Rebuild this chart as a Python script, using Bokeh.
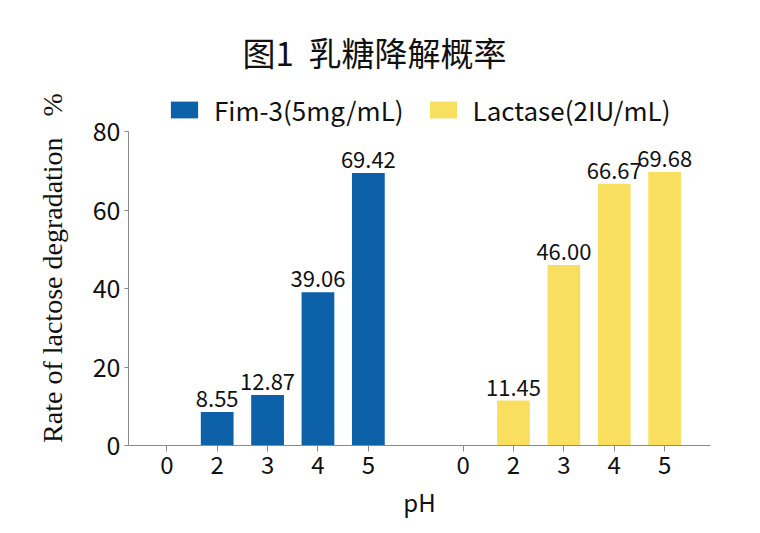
from bokeh.plotting import figure
from bokeh.models import ColumnDataSource, Legend, LegendItem, FixedTicker, Range1d
from bokeh.core.properties import value
from bokeh.embed import file_html
from bokeh.resources import INLINE

# ---- data ----
title_text = "图1\u00a0\u00a0乳糖降解概率"
ph_labels = ["0", "2", "3", "4", "5"]
fim_name = "Fim-3(5mg/mL)"
lac_name = "Lactase(2IU/mL)"
fim_values = [0, 8.55, 12.87, 39.06, 69.42]
lac_values = [0, 11.45, 46.00, 66.67, 69.68]
y_ticks = [0, 20, 40, 60, 80]
y_label = "Rate of lactose degradation\u00a0\u00a0\u00a0%"
x_label = "pH"

BLUE = "#0c61a8"
YELLOW = "#f9df60"
AXIS = "#8a8a8a"
CJK = "Noto Sans CJK SC"

GAP = 5.88
Y_MAX = 80
Y_TOP = 90.45   # headroom in frame for the legend
fim_x = [float(i) for i in range(len(ph_labels))]
lac_x = [round(i + GAP, 2) for i in range(len(ph_labels))]


def labels(vals):
    return [f"{v:.2f}" if v else "" for v in vals]


fim_src = ColumnDataSource(dict(x=fim_x, top=fim_values, label=labels(fim_values)))
lac_src = ColumnDataSource(dict(x=lac_x, top=lac_values, label=labels(lac_values)))

p = figure(width=744, height=525, output_backend="svg", toolbar_location=None,
           x_range=Range1d(-0.76, 10.79), y_range=Range1d(0, Y_TOP),
           min_border_left=128, min_border_right=34, min_border_top=90,
           min_border_bottom=80)
p.outline_line_color = None
p.grid.visible = False
p.background_fill_color = "white"

p.title.text = title_text
p.title.align = "left"
p.title.offset = 114
p.title.standoff = 30
p.title.text_font = CJK
p.title.text_font_size = "33px"
p.title.text_font_style = "normal"
p.title.text_color = "#111111"

r1 = p.vbar(x="x", top="top", width=0.65, source=fim_src, fill_color=BLUE, line_color=None)
r2 = p.vbar(x="x", top="top", width=0.65, source=lac_src, fill_color=YELLOW, line_color=None)

for src in (fim_src, lac_src):
    p.text(x="x", y="top", text="label", source=src, text_align="center",
           text_baseline="bottom", y_offset=-5, text_font=value(CJK),
           text_font_size="22px", text_color="#111111")

legend = Legend(items=[LegendItem(label=fim_name, renderers=[r1]),
                       LegendItem(label=lac_name, renderers=[r2])],
                orientation="horizontal", location=(39, 317),
                glyph_width=34, glyph_height=21, label_height=21,
                label_text_font=CJK, label_text_font_size="26px",
                label_standoff=13, spacing=22,
                padding=0, margin=0, border_line_color=None,
                background_fill_alpha=0, label_text_color="#111111")
p.add_layout(legend)

p.xaxis.ticker = FixedTicker(ticks=fim_x + lac_x)
p.xaxis.major_label_overrides = {x: l for x, l in zip(fim_x + lac_x, ph_labels + ph_labels)}
p.yaxis.ticker = FixedTicker(ticks=y_ticks)
p.yaxis.bounds = (0, Y_MAX)

for ax in (p.xaxis[0], p.yaxis[0]):
    ax.axis_line_color = AXIS
    ax.major_tick_line_color = AXIS
    ax.minor_tick_line_color = None
    ax.major_tick_in = 0
    ax.major_label_text_font = CJK
    ax.major_label_text_color = "#111111"
    ax.axis_label_text_color = "#111111"
    ax.axis_label_text_font_style = "normal"

p.xaxis.major_tick_out = 6
p.xaxis.major_label_text_font_size = "24px"
p.xaxis.major_label_standoff = 4
p.xaxis.axis_label = x_label
p.xaxis.axis_label_text_font = CJK
p.xaxis.axis_label_text_font_size = "24px"
p.xaxis.axis_label_standoff = 7

p.yaxis.major_tick_out = 4
p.yaxis.major_label_text_font_size = "25px"
p.yaxis.major_label_standoff = 4
p.yaxis.axis_label = y_label
p.yaxis.axis_label_text_font = "Liberation Serif"
p.yaxis.axis_label_text_font_size = "28px"
p.yaxis.axis_label_standoff = 22

open("out.html", "w").write(file_html(p, INLINE))
